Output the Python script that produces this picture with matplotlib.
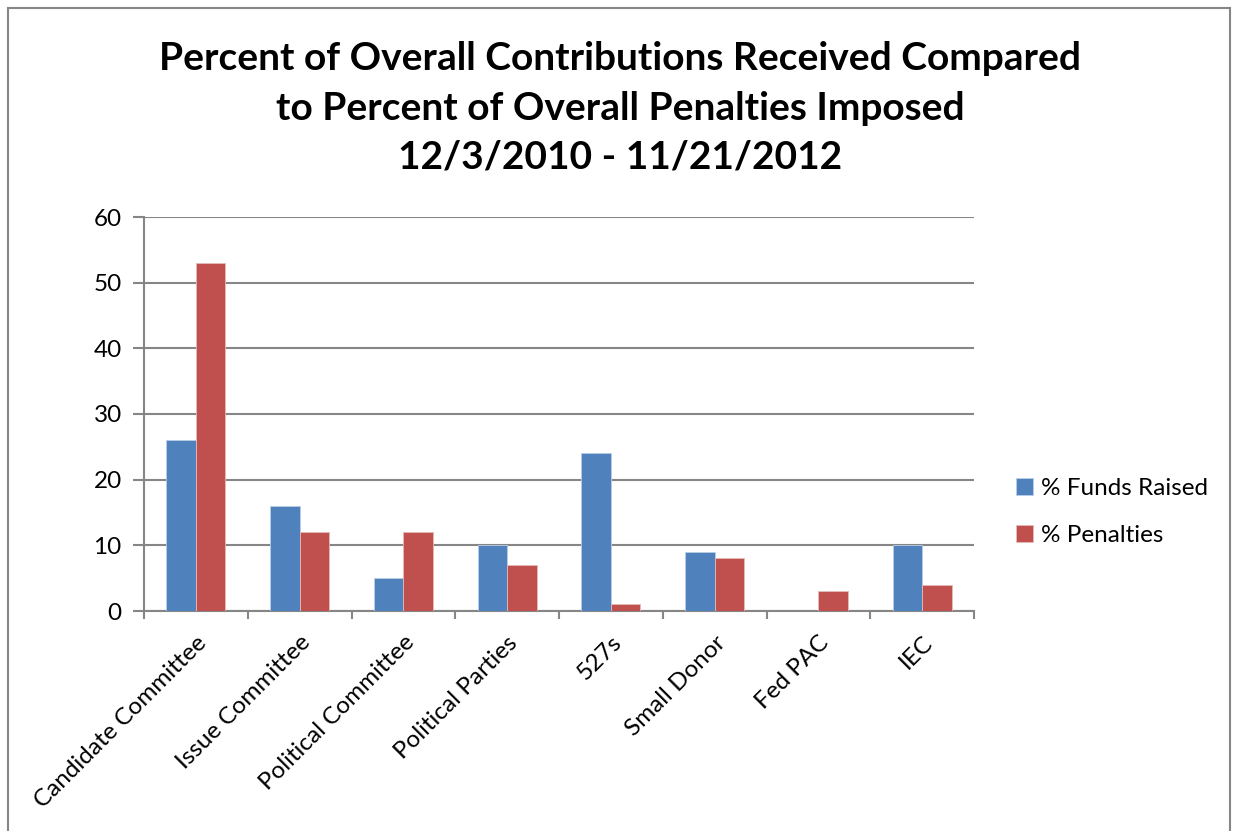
import matplotlib.pyplot as plt
import numpy as np
from matplotlib.patches import Rectangle

plt.rcParams['font.family'] = ['Lato', 'DejaVu Sans']

categories = ['Candidate Committee', 'Issue Committee', 'Political Committee',
              'Political Parties', '527s', 'Small Donor', 'Fed PAC', 'IEC']
funds = [26, 16, 5, 10, 24, 9, 0, 10]
penalties = [53, 12, 12, 7, 1, 8, 3, 4]

blue = '#4F81BD'
red = '#C0504D'
gray = '#868686'

fig = plt.figure(figsize=(12.35, 8.31), dpi=100)
ax = fig.add_axes([144 / 1235, 1 - 611 / 831, 830 / 1235, 394 / 831])

x = np.arange(len(categories))
w = 0.285
ax.bar(x - w / 2, funds, w, color=blue, edgecolor='#B9CDE5', linewidth=0.6,
       label='% Funds Raised', zorder=3)
ax.bar(x + w / 2, penalties, w, color=red, edgecolor='#E6B9B8', linewidth=0.6,
       label='% Penalties', zorder=3)

ax.set_xlim(-0.5, len(categories) - 0.5)
ax.set_ylim(0, 60)
ax.set_yticks(range(0, 61, 10))
ax.yaxis.grid(True, color=gray, linewidth=1.5)
ax.set_axisbelow(True)

for s in ['top', 'right']:
    ax.spines[s].set_visible(False)
for s in ['left', 'bottom']:
    ax.spines[s].set_color(gray)
    ax.spines[s].set_linewidth(1.5)

ax.set_xticks(x)
ax.set_xticklabels(categories, rotation=45, ha='right', va='top',
                   rotation_mode='anchor', fontsize=17.5)
ax.set_xticks(np.arange(-0.5, len(categories)), minor=True)
ax.tick_params(axis='x', which='major', length=0, pad=15)
ax.tick_params(axis='x', which='minor', length=6, width=1.5, color=gray)
ax.tick_params(axis='y', length=8, width=1.5, color=gray, labelsize=17.5, pad=8)

fig.text(0.502, 1 - 108 / 831,
         'Percent of Overall Contributions Received Compared\n'
         'to Percent of Overall Penalties Imposed\n12/3/2010 - 11/21/2012',
         ha='center', va='center', fontsize=28, fontweight='bold',
         linespacing=1.5)

fig.legend(loc='center left', bbox_to_anchor=(994 / 1235, 1 - 512 / 831),
           frameon=False, fontsize=17.5, handlelength=0.7, handleheight=0.7,
           handletextpad=0.35, labelspacing=1.1)

fig.patches.append(Rectangle((8 / 1235, -0.01), 1222 / 1235, 1.01 - 8 / 831,
                             transform=fig.transFigure, fill=False,
                             edgecolor=gray, linewidth=1.5))

fig.savefig('out.png', dpi=100)
